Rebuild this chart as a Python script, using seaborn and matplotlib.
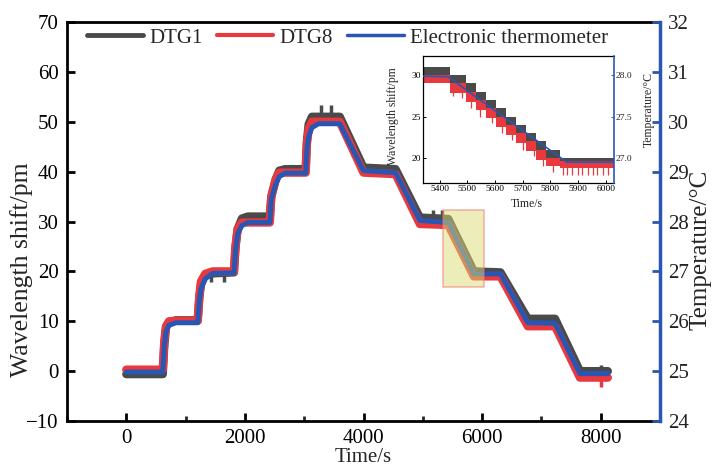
import matplotlib
matplotlib.use("Agg")
import matplotlib.pyplot as plt
import seaborn as sns
from matplotlib.lines import Line2D
from matplotlib.patches import Rectangle
from matplotlib.ticker import MultipleLocator

# --- data ---
time_s = [0, 615, 640, 670, 720, 840, 1205, 1230, 1260, 1330, 1457, 1815, 1840, 1877,
          1950, 2050, 2420, 2445, 2521, 2580, 2680, 3025, 3045, 3075, 3130, 3240, 3600,
          4000, 4540, 4950, 5430, 5860, 6310, 6770, 7230, 7650, 8120]
thermo_c = [24.98, 24.98, 25.50, 25.80, 25.92, 25.97, 25.97, 26.40, 26.65, 26.85, 26.96,
            26.97, 27.40, 27.75, 27.92, 27.98, 27.98, 28.45, 28.75, 28.90, 28.97, 28.97,
            29.45, 29.70, 29.88, 29.96, 29.96, 29.02, 28.98, 28.02, 27.98, 26.95, 26.95,
            25.97, 25.96, 24.95, 24.95]
dtg1_pm = [-0.6, -0.6, 5.0, 8.8, 9.8, 10.2, 10.2, 14.5, 17.5, 19.2, 19.6, 19.8, 24.5, 28.5,
           30.6, 31.0, 31.0, 35.0, 38.5, 40.2, 40.5, 40.5, 46.0, 49.5, 51.0, 51.0, 51.0,
           40.8, 40.5, 30.8, 30.5, 20.0, 19.8, 10.5, 10.5, 0.0, 0.0]
dtg8_pm = [0.3, 0.3, 6.0, 9.0, 10.0, 10.1, 10.1, 15.0, 18.0, 19.5, 20.0, 20.0, 25.0, 28.5,
           29.8, 29.8, 29.8, 35.0, 38.5, 39.8, 39.8, 39.8, 45.5, 48.5, 50.0, 50.0, 50.0,
           39.8, 39.5, 29.5, 29.3, 19.0, 19.0, 9.0, 9.0, -1.3, -1.3]

# isolated spikes
dtg1_spike_t = [1430, 1650, 3277, 3445, 5180, 5320, 8010]
dtg1_spike_lo = [17.8, 17.8, 50.0, 50.0, 30.0, 30.0, -1.0]
dtg1_spike_hi = [19.5, 19.5, 53.3, 53.3, 32.3, 32.3, 1.2]
dtg8_spike_t = [8010]
dtg8_spike_lo = [-3.1]
dtg8_spike_hi = [-0.5]

# inset (5340-6030 s), quantised steps
ins_t = [5340, 5437, 5497, 5533, 5569, 5605, 5641, 5677, 5713, 5749, 5785, 5835, 6030]
ins_dtg1_hi = [31, 30, 29, 28, 27, 26, 25, 24, 23, 22, 21, 20, 20]
ins_dtg1_lo = [30, 29, 28, 27, 26, 25, 24, 23, 22, 21, 20, 19, 19]
ins_dtg8_hi = [30, 29, 28, 27, 26, 25, 24, 23, 22, 21, 20, 19.6, 19.6]
ins_dtg8_lo = [29, 27.8, 26.8, 25.8, 24.8, 23.8, 22.8, 21.8, 20.8, 19.8, 19.0, 18.8, 18.8]
ins_spike_t = [5450, 5480, 5515, 5545, 5590, 5625, 5660, 5700, 5740, 5775, 5810, 5845,
               5860, 5880, 5900, 5915, 5935, 5955, 5970, 5990, 6010]
ins_spike_lo = [27.5, 27.2, 26.0, 25.0, 24.2, 23.0, 22.2, 21.0, 20.2, 19.0, 18.3, 18, 18,
                18, 18, 18, 18, 18, 18, 18, 18]
ins_spike_hi = [29, 29, 28, 27, 26, 25, 24, 23, 22, 21, 20, 19.6, 19.6, 19.6, 19.6, 19.6,
                19.6, 19.6, 19.6, 19.6, 19.6]

GRAY = "#4a4a4a"
RED = "#e8393f"
BLUE = "#2a56b3"

sns.set_style("ticks")
plt.rcParams["font.family"] = ["Liberation Serif", "DejaVu Serif"]

fig = plt.figure(figsize=(7.15, 4.68), dpi=100)
ax = fig.add_axes([0.0937, 0.1004, 0.8294, 0.8526])
ax2 = ax.twinx()

sns.lineplot(x=time_s, y=dtg1_pm, ax=ax, color=GRAY, lw=6, sort=False, estimator=None)
ax.vlines(dtg1_spike_t, dtg1_spike_lo, dtg1_spike_hi, color=GRAY, lw=2.5)
sns.lineplot(x=time_s, y=dtg8_pm, ax=ax, color=RED, lw=6, sort=False, estimator=None)
ax.vlines(dtg8_spike_t, dtg8_spike_lo, dtg8_spike_hi, color=RED, lw=2.5)
sns.lineplot(x=time_s, y=thermo_c, ax=ax2, color=BLUE, lw=3.6, sort=False, estimator=None)

ax.set_xlim(-1000, 9000)
ax.set_ylim(-10, 70)
ax2.set_ylim(24, 32)
ax.xaxis.set_major_locator(MultipleLocator(2000))
ax.xaxis.set_minor_locator(MultipleLocator(1000))
ax.yaxis.set_major_locator(MultipleLocator(10))
ax2.yaxis.set_major_locator(MultipleLocator(1))

# highlighted zoom window
ax2.add_patch(Rectangle((5345, 16.8), 689, 15.5, transform=ax.transData,
                        facecolor="#dcdc74", edgecolor="#f07070", alpha=0.5, lw=1.2, zorder=5))

for s in ["left", "bottom", "top"]:
    ax.spines[s].set_linewidth(2)
    ax.spines[s].set_color("black")
    ax2.spines[s].set_visible(False)
ax.spines["right"].set_visible(False)
ax2.spines["right"].set_color(BLUE)
ax2.spines["right"].set_linewidth(2.5)

ax.tick_params(axis="both", which="major", direction="in", length=6, width=2,
               labelsize=15, colors="black", pad=6)
ax.tick_params(axis="x", which="minor", direction="in", length=3.5, width=2)
ax2.tick_params(axis="y", direction="in", length=6, width=2, colors=BLUE,
                labelcolor="#222222", labelsize=15, pad=6)

ax.set_xlabel("Time/s", fontsize=15)
ax.xaxis.set_label_coords(0.5, -0.068)
ax.set_ylabel("Wavelength shift/pm", fontsize=18.5)
ax.yaxis.set_label_coords(-0.058, 0.378)
ax2.set_ylabel("Temperature/°C", fontsize=18)
ax2.yaxis.set_label_coords(1.049, 0.43)

handles = [Line2D([], [], color=GRAY, lw=3.5), Line2D([], [], color=RED, lw=3),
           Line2D([], [], color=BLUE, lw=2.5)]
ax2.legend(handles, ["DTG1", "DTG8", "Electronic thermometer"], loc="upper left",
           bbox_to_anchor=(0.033, 0.985), ncol=3, frameon=False, fontsize=15,
           handlelength=2.7, handletextpad=0.3, columnspacing=0.7, borderpad=0,
           borderaxespad=0)

# --- inset ---
axi = fig.add_axes([0.5916, 0.609, 0.2671, 0.2714])
axi.set_facecolor("white")
axi2 = axi.twinx()
axi.fill_between(ins_t, ins_dtg1_lo, ins_dtg1_hi, step="post", color=GRAY, lw=0)
axi.fill_between(ins_t, ins_dtg8_lo, ins_dtg8_hi, step="post", color=RED, lw=0)
axi.vlines(ins_spike_t, ins_spike_lo, ins_spike_hi, color=RED, lw=0.9)
sns.lineplot(x=time_s, y=thermo_c, ax=axi2, color=BLUE, lw=1.2, sort=False, estimator=None)

axi.set_xlim(5340, 6030)
axi.set_ylim(17, 32.3)
axi2.set_ylim(26.7, 28.23)
axi.xaxis.set_major_locator(MultipleLocator(100))
axi.set_yticks([20, 25, 30])
axi2.set_yticks([27.0, 27.5, 28.0])
axi2.set_yticklabels(["27.0", "27.5", "28.0"])

for s in ["left", "bottom", "top"]:
    axi.spines[s].set_linewidth(0.9)
    axi.spines[s].set_color("black")
    axi2.spines[s].set_visible(False)
axi.spines["right"].set_visible(False)
axi2.spines["right"].set_color(BLUE)
axi2.spines["right"].set_linewidth(1.2)

axi.tick_params(axis="both", direction="in", length=2.5, width=0.7, labelsize=6.8,
                pad=1.5, colors="black")
axi2.tick_params(axis="y", direction="in", length=2.5, width=0.7, labelsize=6.8,
                 pad=1.5, colors=BLUE, labelcolor="#222222")

axi.set_xlabel("Time/s", fontsize=8.5)
axi.xaxis.set_label_coords(0.545, -0.12)
axi.set_ylabel("Wavelength shift/pm", fontsize=8.5)
axi.yaxis.set_label_coords(-0.126, 0.528)
axi2.set_ylabel("Temperature/°C", fontsize=8.5)
axi2.yaxis.set_label_coords(1.152, 0.575)

fig.savefig("out.png", dpi=100)
